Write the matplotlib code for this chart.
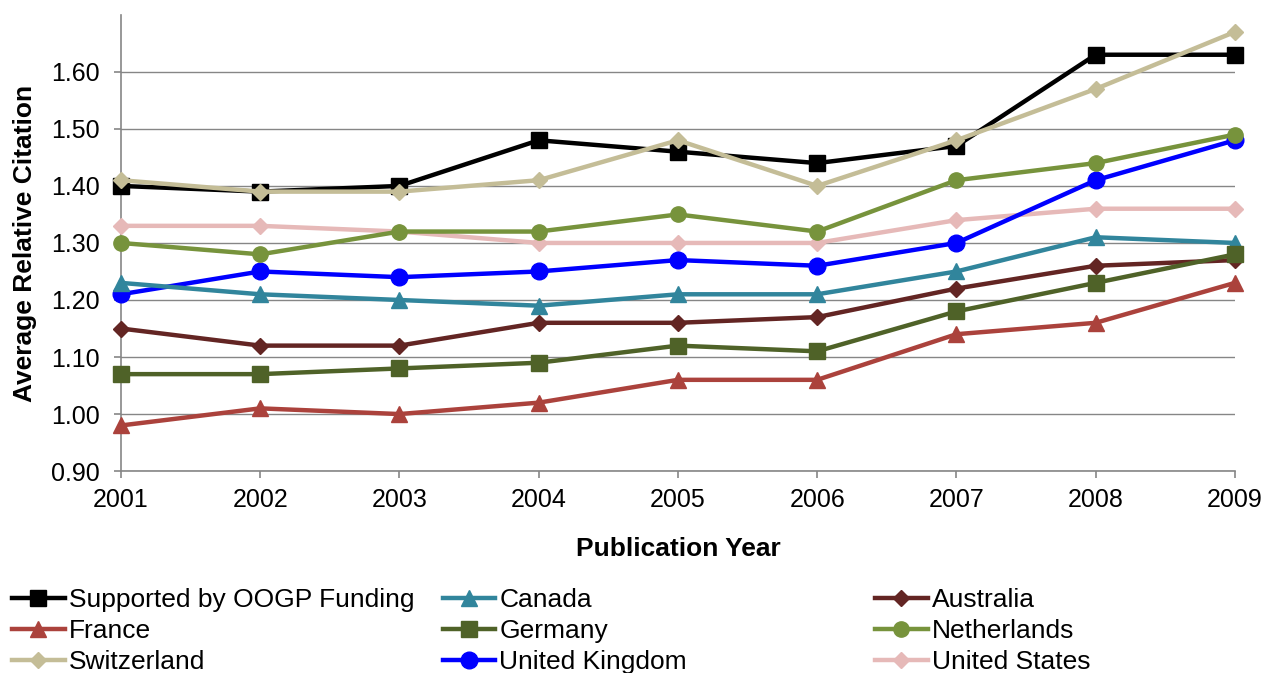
import matplotlib
matplotlib.use('Agg')
import matplotlib.pyplot as plt

plt.rcParams['font.family'] = ['Liberation Sans', 'DejaVu Sans']

years = ['2001', '2002', '2003', '2004', '2005', '2006', '2007', '2008', '2009']

oogp        = [1.40, 1.39, 1.40, 1.48, 1.46, 1.44, 1.47, 1.63, 1.63]
canada      = [1.23, 1.21, 1.20, 1.19, 1.21, 1.21, 1.25, 1.31, 1.30]
australia   = [1.15, 1.12, 1.12, 1.16, 1.16, 1.17, 1.22, 1.26, 1.27]
france      = [0.98, 1.01, 1.00, 1.02, 1.06, 1.06, 1.14, 1.16, 1.23]
germany     = [1.07, 1.07, 1.08, 1.09, 1.12, 1.11, 1.18, 1.23, 1.28]
netherlands = [1.30, 1.28, 1.32, 1.32, 1.35, 1.32, 1.41, 1.44, 1.49]
switzerland = [1.41, 1.39, 1.39, 1.41, 1.48, 1.40, 1.48, 1.57, 1.67]
uk          = [1.21, 1.25, 1.24, 1.25, 1.27, 1.26, 1.30, 1.41, 1.48]
us          = [1.33, 1.33, 1.32, 1.30, 1.30, 1.30, 1.34, 1.36, 1.36]

# (label, values, colour, marker, markersize) in legend order, row by row
series = [
    ('Supported by OOGP Funding', oogp, '#000000', 's', 11.5),
    ('Canada', canada, '#31859C', '^', 12),
    ('Australia', australia, '#632523', 'D', 8.5),
    ('France', france, '#AB423C', '^', 12),
    ('Germany', germany, '#4F6228', 's', 11.5),
    ('Netherlands', netherlands, '#77933C', 'o', 11),
    ('Switzerland', switzerland, '#C4BD97', 'D', 8.5),
    ('United Kingdom', uk, '#0000FF', 'o', 12),
    ('United States', us, '#E6B9B8', 'D', 8.5),
]

# drawing order so that the lines overlap roughly like the original
draw_order = [8, 7, 5, 1, 2, 4, 3, 0, 6]

fig = plt.figure(figsize=(12.68, 6.73), dpi=100)
ax = fig.add_axes([0.0954, 0.300, 0.8785, 0.678])

x = list(range(len(years)))
handles = {}
for i in draw_order:
    label, vals, col, mk, ms = series[i]
    h, = ax.plot(x, vals, color=col, linewidth=3.2, marker=mk, markersize=ms,
                 markeredgecolor=col, label=label, zorder=3, clip_on=False)
    handles[i] = h

ax.set_xlim(0, len(years) - 1)
ax.set_ylim(0.90, 1.70)
ax.set_yticks([0.90, 1.00, 1.10, 1.20, 1.30, 1.40, 1.50, 1.60])
ax.set_yticklabels(['%.2f' % v for v in ax.get_yticks()])
ax.set_xticks(x)
ax.set_xticklabels(years)
ax.tick_params(axis='both', labelsize=18, color='#868686', length=5, width=1.2)
ax.tick_params(axis='y', pad=10)
ax.tick_params(axis='x', pad=7)
ax.grid(axis='y', color='#868686', linewidth=1)
ax.set_axisbelow(True)
for s in ['top', 'right']:
    ax.spines[s].set_visible(False)
for s in ['left', 'bottom']:
    ax.spines[s].set_color('#868686')
    ax.spines[s].set_linewidth(1.2)

ax.set_xlabel('Publication Year', fontsize=19, fontweight='bold', labelpad=18)
ax.set_ylabel('Average Relative Citation', fontsize=19, fontweight='bold', labelpad=10)

# legend: three columns at fixed positions
col_x = [0.0095, 0.349, 0.690]
for c in range(3):
    idx = [c, c + 3, c + 6]
    fig.legend([handles[i] for i in idx], [series[i][0] for i in idx],
               loc='upper left', bbox_to_anchor=(col_x[c], 0.126), frameon=False,
               fontsize=19, handlelength=2.0, handletextpad=0.15,
               labelspacing=0.26, borderpad=0.0, borderaxespad=0.0)

fig.savefig('out.png', dpi=100)
